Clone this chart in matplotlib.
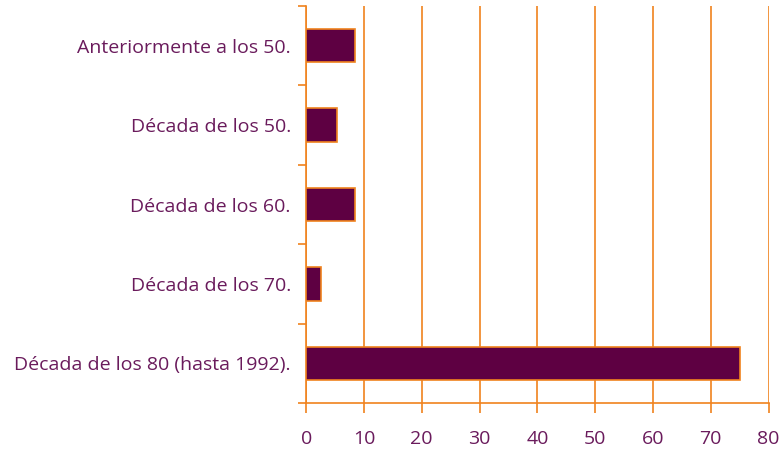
import matplotlib.pyplot as plt
import numpy as np

categories = ['Anteriormente a los 50.', 'Década de los 50.', 'Década de los 60.',
              'Década de los 70.', 'Década de los 80 (hasta 1992).']
values = [8.4, 5.4, 8.4, 2.6, 75.1]
xticks = [0, 10, 20, 30, 40, 50, 60, 70, 80]

orange = '#F0831E'
purple = '#5E0042'
text_col = '#6A1B5C'

plt.rcParams['font.family'] = ['Open Sans', 'DejaVu Sans']

fig = plt.figure(figsize=(7.81, 4.53), dpi=100)
ax = fig.add_axes([0.392, 0.110, 0.592, 0.877])

y = np.arange(len(categories))
ax.barh(y, values, height=0.42, color=purple, edgecolor=orange, linewidth=1.2, zorder=3)

ax.set_xlim(0, 80)
ax.set_ylim(len(categories) - 0.5, -0.5)
ax.set_xticks(xticks)
ax.set_yticks(y)
ax.set_yticklabels(categories)
ax.set_yticks(np.arange(-0.5, len(categories), 1), minor=True)

ax.tick_params(axis='y', which='major', length=0, pad=11, labelsize=14, labelcolor=text_col)
ax.tick_params(axis='y', which='minor', length=6, width=1.2, color=orange)
ax.tick_params(axis='x', which='major', length=7, width=1.2, color=orange, pad=12,
               labelsize=14, labelcolor=text_col)

ax.grid(axis='x', color=orange, linewidth=1.2, zorder=0)
for s in ['top', 'right']:
    ax.spines[s].set_visible(False)
for s in ['left', 'bottom']:
    ax.spines[s].set_color(orange)
    ax.spines[s].set_linewidth(1.2)

fig.savefig('out.png', dpi=100)
